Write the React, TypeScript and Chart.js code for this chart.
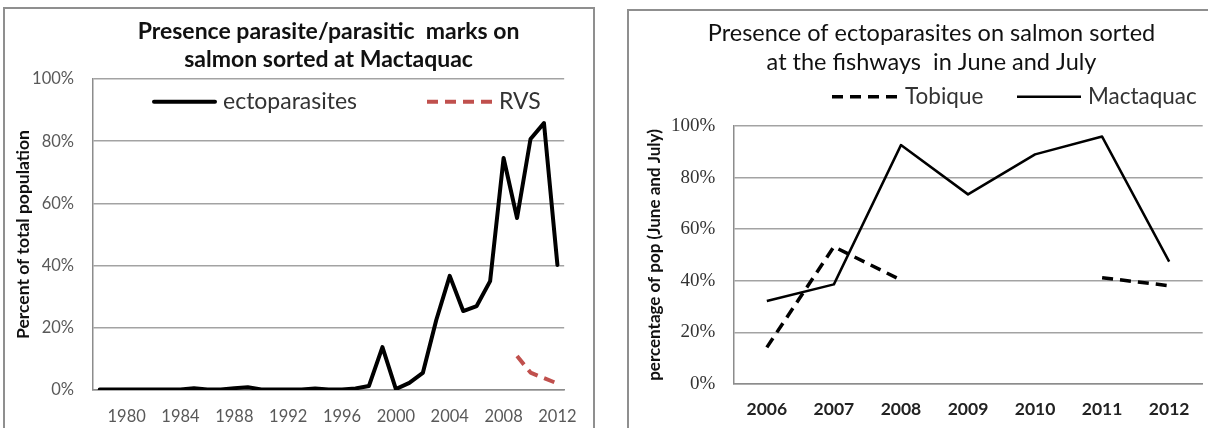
import React, { useEffect, useRef } from 'react';
import { Chart, registerables } from 'chart.js';

Chart.register(...registerables);

// ---------- Left chart data ----------
const leftYears = [
  '1978', '1979', '1980', '1981', '1982', '1983', '1984', '1985', '1986', '1987',
  '1988', '1989', '1990', '1991', '1992', '1993', '1994', '1995', '1996', '1997',
  '1998', '1999', '2000', '2001', '2002', '2003', '2004', '2005', '2006', '2007',
  '2008', '2009', '2010', '2011', '2012',
];
const ectoparasites = [
  0.2, 0.2, 0.2, 0.2, 0.2, 0.2, 0.2, 0.6, 0.2, 0.2,
  0.6, 0.9, 0.2, 0.2, 0.2, 0.2, 0.5, 0.2, 0.2, 0.5,
  1.3, 13.8, 0.3, 2.3, 5.5, 22.5, 36.7, 25.4, 27.0, 35.0,
  74.6, 55.3, 80.7, 85.8, 40.2,
];
const rvs = [
  null, null, null, null, null, null, null, null, null, null,
  null, null, null, null, null, null, null, null, null, null,
  null, null, null, null, null, null, null, null, null, null,
  null, 10.9, 5.6, 3.8, 2.1,
];
const leftTickYears = ['1980', '1984', '1988', '1992', '1996', '2000', '2004', '2008', '2012'];

// ---------- Right chart data ----------
const rightYears = ['2006', '2007', '2008', '2009', '2010', '2011', '2012'];
const tobique = [14.2, 53.2, 40.3, null, null, 41.2, 38.1];
const mactaquac = [32.2, 38.6, 92.6, 73.5, 89.0, 95.9, 47.4];

const yMin = 0;
const yMax = 100;
const yStep = 20;

const GRID = '#a3a3a3';
const AXIS = '#8c8c8c';

const customLegend = {
  id: 'customLegend',
  afterDraw(chart: any, _args: any, opts: any) {
    if (!opts || !opts.items) return;
    const { ctx } = chart;
    ctx.save();
    for (const it of opts.items) {
      const ds = chart.data.datasets[it.dataset];
      ctx.beginPath();
      ctx.setLineDash(ds.borderDash || []);
      ctx.lineWidth = ds.borderWidth;
      ctx.strokeStyle = ds.borderColor;
      ctx.lineCap = ds.borderCapStyle || 'butt';
      ctx.moveTo(it.x0, opts.y);
      ctx.lineTo(it.x1, opts.y);
      ctx.stroke();
      ctx.setLineDash([]);
      ctx.fillStyle = opts.color;
      ctx.font = opts.font;
      ctx.textBaseline = 'middle';
      ctx.textAlign = 'left';
      ctx.fillText(ds.label, it.tx, opts.y);
    }
    ctx.restore();
  },
};

function ChartCanvas({ config, left, top, width, height }: any) {
  const ref = useRef<HTMLCanvasElement | null>(null);
  useEffect(() => {
    const chart = new Chart(ref.current as HTMLCanvasElement, config);
    return () => chart.destroy();
  }, []);
  return (
    <canvas
      ref={ref}
      width={width}
      height={height}
      style={{ position: 'absolute', left, top, width, height }}
    />
  );
}

const leftConfig: any = {
  type: 'line',
  data: {
    labels: leftYears,
    datasets: [
      {
        label: 'ectoparasites',
        data: ectoparasites,
        borderColor: '#000000',
        borderWidth: 4,
        borderJoinStyle: 'round',
        borderCapStyle: 'round',
        pointRadius: 0,
        tension: 0,
        spanGaps: false,
      },
      {
        label: 'RVS',
        data: rvs,
        borderColor: '#c0504d',
        borderWidth: 4,
        borderDash: [11, 7],
        borderJoinStyle: 'round',
        borderCapStyle: 'butt',
        pointRadius: 0,
        tension: 0,
        spanGaps: false,
      },
    ],
  },
  plugins: [customLegend],
  options: {
    responsive: false,
    animation: false,
    layout: { padding: { left: 0, right: 27, top: 0, bottom: 0 } },
    plugins: {
      legend: { display: false },
      tooltip: { enabled: false },
      title: {
        display: true,
        fullSize: false,
        text: ['Presence parasite/parasitic  marks on', 'salmon sorted at Mactaquac'],
        color: '#111111',
        font: { family: 'Lato', size: 23, weight: 'bold', lineHeight: 1.217 },
        padding: { top: 10, bottom: 5 },
      },
      customLegend: {
        y: 93.7,
        font: '23px Lato',
        color: '#333333',
        items: [
          { dataset: 0, x0: 150, x1: 211, tx: 219 },
          { dataset: 1, x0: 423, x1: 489, tx: 495 },
        ],
      },
    },
    scales: {
      x: {
        type: 'category',
        offset: true,
        grid: { display: false, drawTicks: false },
        border: { display: true, color: AXIS, width: 1.5 },
        afterFit(scale: any) {
          scale.height = 38;
        },
        ticks: {
          autoSkip: false,
          maxRotation: 0,
          padding: 17,
          color: '#595959',
          font: { family: 'Lato', size: 16.5 },
          callback(this: any, val: any) {
            const lbl = this.getLabelForValue(val);
            return leftTickYears.includes(lbl) ? lbl : null;
          },
        },
      },
      y: {
        min: yMin,
        max: yMax,
        grid: { color: GRID, lineWidth: 1.5, drawTicks: false },
        border: { display: true, color: AXIS, width: 1.5 },
        afterFit(scale: any) {
          scale.width = 89;
        },
        ticks: {
          stepSize: yStep,
          padding: 19,
          color: '#595959',
          font: { family: 'Lato', size: 16.5 },
          callback: (v: any) => v + '%',
        },
        title: {
          display: true,
          text: 'Percent of total population',
          color: '#111111',
          font: { family: 'Lato', size: 17.5, weight: 'bold', lineHeight: 1.2 },
          padding: { top: 8.5, bottom: 0 },
        },
      },
    },
  },
};

const rightConfig: any = {
  type: 'line',
  data: {
    labels: rightYears,
    datasets: [
      {
        label: 'Tobique',
        data: tobique,
        borderColor: '#000000',
        borderWidth: 3.5,
        borderDash: [11, 7],
        borderJoinStyle: 'round',
        borderCapStyle: 'butt',
        pointRadius: 0,
        tension: 0,
        spanGaps: false,
      },
      {
        label: 'Mactaquac',
        data: mactaquac,
        borderColor: '#000000',
        borderWidth: 2.5,
        borderJoinStyle: 'round',
        borderCapStyle: 'butt',
        pointRadius: 0,
        tension: 0,
        spanGaps: false,
      },
    ],
  },
  plugins: [customLegend],
  options: {
    responsive: false,
    animation: false,
    layout: { padding: { left: 0, right: 0, top: 0, bottom: 0 } },
    plugins: {
      legend: { display: false },
      tooltip: { enabled: false },
      title: {
        display: true,
        fullSize: true,
        text: ['Presence of ectoparasites on salmon sorted', 'at the fishways  in June and July'],
        color: '#111111',
        font: { family: 'Lato', size: 23.5, weight: 'normal', lineHeight: 1.234 },
        padding: { top: 8.5, bottom: 49.5 },
      },
      customLegend: {
        y: 86.7,
        font: '22.5px Lato',
        color: '#333333',
        items: [
          { dataset: 0, x0: 204, x1: 274, tx: 277 },
          { dataset: 1, x0: 389, x1: 453, tx: 460 },
        ],
      },
    },
    scales: {
      x: {
        type: 'category',
        offset: true,
        grid: { display: false, drawTicks: false },
        border: { display: true, color: AXIS, width: 1.5 },
        afterFit(scale: any) {
          scale.height = 44;
        },
        ticks: {
          autoSkip: false,
          maxRotation: 0,
          padding: 15,
          color: '#222222',
          font: { family: 'Lato', size: 17.5, weight: 'bold' },
        },
      },
      y: {
        min: yMin,
        max: yMax,
        grid: { color: GRID, lineWidth: 1.5, drawTicks: false },
        border: { display: true, color: AXIS, width: 1.5 },
        afterFit(scale: any) {
          scale.width = 105.3;
        },
        ticks: {
          stepSize: yStep,
          padding: 18,
          color: '#333333',
          font: { family: 'Liberation Serif', size: 19 },
          callback: (v: any) => v + '%',
        },
        title: {
          display: true,
          text: 'percentage of pop (June and July)',
          color: '#111111',
          font: { family: 'Lato', size: 17, weight: 'bold', lineHeight: 1.2 },
          padding: { top: 16.5, bottom: 0 },
        },
      },
      // empty right-hand spacer axis so the chart title centres on the whole chart box
      yRight: {
        type: 'linear',
        position: 'right',
        display: true,
        grid: { display: false, drawTicks: false },
        border: { display: false },
        ticks: { display: false },
        afterFit(scale: any) {
          scale.width = 32.3;
        },
      },
    },
  },
};

export default function App() {
  return (
    <div
      style={{
        position: 'fixed',
        left: 0,
        top: 0,
        width: 1208,
        height: 428,
        overflow: 'hidden',
        background: '#ffffff',
      }}
    >
      <div
        style={{
          position: 'absolute',
          left: 3,
          top: 7,
          width: 592,
          height: 460,
          border: '2px solid #8f8f8f',
          boxSizing: 'border-box',
        }}
      />
      <div
        style={{
          position: 'absolute',
          left: 627,
          top: 9,
          width: 700,
          height: 460,
          border: '2px solid #8f8f8f',
          boxSizing: 'border-box',
        }}
      />
      <ChartCanvas config={leftConfig} left={4} top={8} width={590} height={420} />
      <ChartCanvas config={rightConfig} left={628} top={10} width={607} height={418} />
    </div>
  );
}
